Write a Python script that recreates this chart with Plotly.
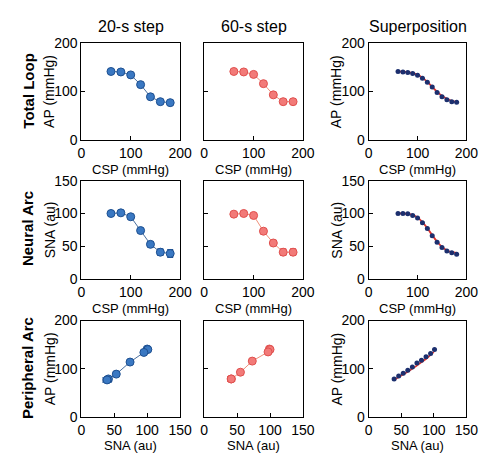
import plotly.graph_objects as go

# ---------------- data ----------------
csp_steps = [60, 80, 100, 120, 140, 160, 180]

# Total loop (AP vs CSP)
ap_20s = [141, 140, 134, 114, 89, 79, 77]
ap_60s = [141, 140, 135, 116, 93, 79, 79]
ap_20s_err = [2, 2, 2, 3, 3, 3, 3]
ap_60s_err = [2, 2, 2, 3, 3, 3, 3]

# Neural arc (SNA vs CSP)
sna_20s = [100, 101, 95, 74, 53, 41, 39]
sna_60s = [99, 100, 97, 73, 55, 41, 41]
sna_20s_err = [2, 2, 3, 3, 4, 5, 6]
sna_60s_err = [2, 2, 3, 4, 4, 5, 5]

# Superposition
csp_super = [60, 70, 80, 90, 100, 110, 120, 130, 140, 150, 160, 170, 180]
ap_super_dots = [141, 140, 139, 137, 133, 127, 119, 109, 98, 89, 83, 79, 78]
ap_super_fit = [141, 140.5, 139.5, 137.5, 134, 128, 119.5, 109.5, 99.5, 91, 85, 80.5, 78]
sna_super_dots = [100, 100, 99.5, 97, 93, 86, 77, 66, 56, 48, 43, 40, 38]
sna_super_fit = [100, 100, 99.5, 98, 94, 87, 77.5, 67, 57, 49, 44, 41, 40]

sna_pa_super = [39, 46, 53, 60, 67, 74, 81, 88, 95, 101]
ap_pa_super_dots = [79, 85, 91, 97, 104, 112, 118, 125, 132, 140]
sna_pa_fit = [40, 50, 60, 70, 80, 90, 100]
ap_pa_fit = [78, 86, 94, 103, 113, 123, 135]

col_titles = ["20-s step", "60-s step", "Superposition"]
row_titles = ["Total Loop", "Neural Arc", "Peripheral Arc"]
x_titles = ["CSP (mmHg)", "CSP (mmHg)", "SNA (au)"]
y_titles = ["AP (mmHg)", "SNA (au)", "AP (mmHg)"]
x_ranges = [[0, 200], [0, 200], [0, 150]]
y_ranges = [[0, 200], [0, 150], [0, 200]]
x_ticks = [[0, 100, 200], [0, 100, 200], [0, 50, 100, 150]]
y_ticks = [[0, 100, 200], [0, 50, 100, 150], [0, 100, 200]]

# ---------------- styling ----------------
W, H = 491, 454
col_px = [(80, 182), (207, 309), (377, 478)]
row_px = [(36, 137), (179, 281), (324, 424)]
xtitle_off = [30, 30, 29]
FONT = "Liberation Sans, Arial, sans-serif"

BLUE_FILL = "#3a78c2"
BLUE_EDGE = "#1d4f90"
BLUE_LINE = "#4a6f9e"
RED_FILL = "#f27a78"
RED_EDGE = "#e0504e"
RED_LINE = "#f0907a"
NAVY = "#1c2f6e"
FIT_RED = "#e0352f"

fig = go.Figure()

def ax_id(r, c):
    return r * 3 + c + 1

def ref(n, kind):
    return kind if n == 1 else f"{kind}{n}"

def add_step(r, c, x, y, xerr, yerr, fill, edge, line):
    n = ax_id(r, c)
    fig.add_trace(go.Scatter(
        x=x, y=y, mode="lines+markers",
        line=dict(color=line, width=1),
        marker=dict(size=8, color=fill, line=dict(color=edge, width=1)),
        error_y=dict(type="data", array=yerr, color=edge, thickness=1.2, width=3) if yerr else None,
        error_x=dict(type="data", array=xerr, color=edge, thickness=1.2, width=3) if xerr else None,
        xaxis=ref(n, "x"), yaxis=ref(n, "y"), showlegend=False))

def add_super(r, c, xf, yf, xd, yd):
    n = ax_id(r, c)
    fig.add_trace(go.Scatter(
        x=xf, y=yf, mode="lines", line=dict(color=FIT_RED, width=1.8, shape="spline"),
        xaxis=ref(n, "x"), yaxis=ref(n, "y"), showlegend=False))
    fig.add_trace(go.Scatter(
        x=xd, y=yd, mode="markers", marker=dict(size=5, color=NAVY),
        xaxis=ref(n, "x"), yaxis=ref(n, "y"), showlegend=False))

# Row 1 : total loop
add_step(0, 0, csp_steps, ap_20s, None, ap_20s_err, BLUE_FILL, BLUE_EDGE, BLUE_LINE)
add_step(0, 1, csp_steps, ap_60s, None, ap_60s_err, RED_FILL, RED_EDGE, RED_LINE)
add_super(0, 2, csp_super, ap_super_fit, csp_super, ap_super_dots)
# Row 2 : neural arc
add_step(1, 0, csp_steps, sna_20s, None, sna_20s_err, BLUE_FILL, BLUE_EDGE, BLUE_LINE)
add_step(1, 1, csp_steps, sna_60s, None, sna_60s_err, RED_FILL, RED_EDGE, RED_LINE)
add_super(1, 2, csp_super, sna_super_fit, csp_super, sna_super_dots)
# Row 3 : peripheral arc
add_step(2, 0, sna_20s, ap_20s, sna_20s_err, ap_20s_err, BLUE_FILL, BLUE_EDGE, BLUE_LINE)
add_step(2, 1, sna_60s, ap_60s, sna_60s_err, ap_60s_err, RED_FILL, RED_EDGE, RED_LINE)
add_super(2, 2, sna_pa_fit, ap_pa_fit, sna_pa_super, ap_pa_super_dots)

layout = dict(width=W, height=H, margin=dict(l=0, r=0, t=0, b=0),
              paper_bgcolor="white", plot_bgcolor="white",
              font=dict(family=FONT, color="black"))
annotations = []
for r in range(3):
    for c in range(3):
        n = ax_id(r, c)
        x0, x1 = col_px[c]
        y0, y1 = row_px[r]
        xa = dict(domain=[x0 / W, x1 / W], range=x_ranges[r], tickvals=x_ticks[r],
                  anchor=ref(n, "y"), showline=True, mirror=True, linecolor="black",
                  linewidth=1, ticks="inside", ticklen=4, tickcolor="black",
                  showgrid=False, zeroline=False, tickfont=dict(size=14, family=FONT),
                  ticklabelstandoff=0, fixedrange=True)
        ya = dict(domain=[1 - y1 / H, 1 - y0 / H], range=y_ranges[r], tickvals=y_ticks[r],
                  anchor=ref(n, "x"), showline=True, mirror=True, linecolor="black",
                  linewidth=1, ticks="inside", ticklen=4, tickcolor="black",
                  showgrid=False, zeroline=False, tickfont=dict(size=14, family=FONT),
                  showticklabels=(c != 1), fixedrange=True)
        layout["xaxis" if n == 1 else f"xaxis{n}"] = xa
        layout["yaxis" if n == 1 else f"yaxis{n}"] = ya
        # x axis title
        annotations.append(dict(text=x_titles[r], x=(x0 + x1) / 2 / W,
                                y=1 - (y1 + xtitle_off[r]) / H,
                                xref="paper", yref="paper", showarrow=False,
                                xanchor="center", yanchor="middle", borderpad=0,
                                font=dict(size=13, family=FONT)))
        if c != 1:
            annotations.append(dict(text=y_titles[r], x=(x0 - 33) / W, y=1 - (y0 + y1) / 2 / H,
                                    xref="paper", yref="paper", showarrow=False, textangle=-90,
                                    xanchor="center", yanchor="middle",
                                    font=dict(size=14, family=FONT)))

for c in range(3):
    x0, x1 = col_px[c]
    annotations.append(dict(text=col_titles[c], x=(x0 + x1) / 2 / W, y=1 - 19 / H,
                            xref="paper", yref="paper", showarrow=False,
                            xanchor="center", yanchor="middle",
                            font=dict(size=16, family=FONT)))
for r in range(3):
    y0, y1 = row_px[r]
    annotations.append(dict(text=f"<b>{row_titles[r]}</b>", x=25 / W, y=1 - ((y0 + y1) / 2 - 1) / H,
                            xref="paper", yref="paper", showarrow=False, textangle=-90,
                            xanchor="center", yanchor="middle",
                            font=dict(size=15, family=FONT)))
layout["annotations"] = annotations
fig.update_layout(**layout)
fig.write_html("out.html", config={"displayModeBar": False})
